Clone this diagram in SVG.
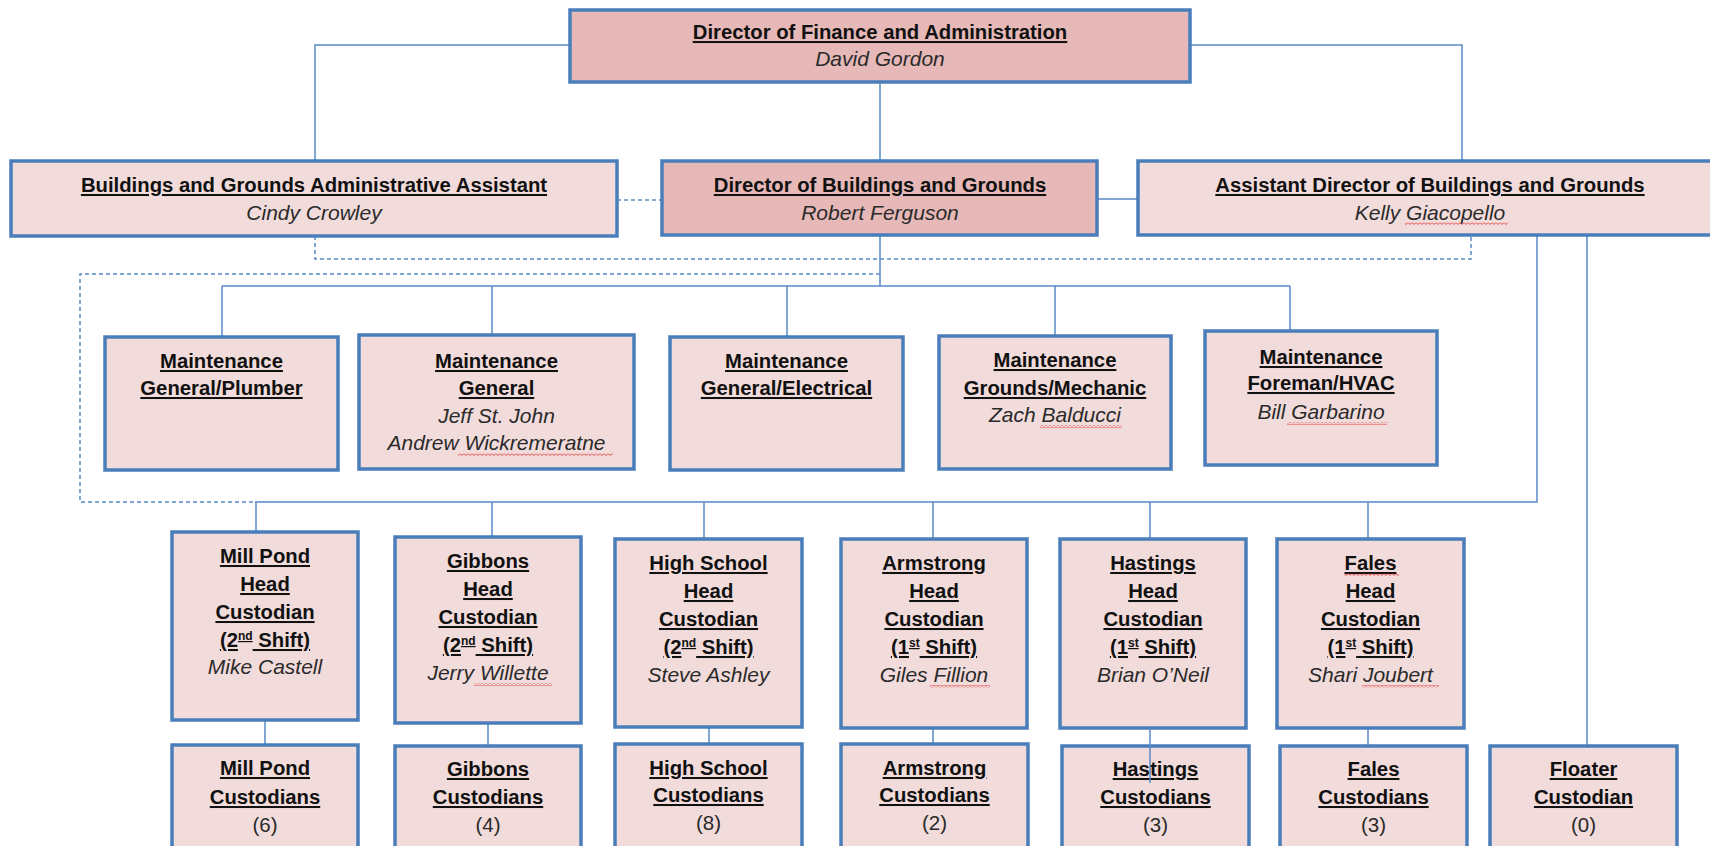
<svg xmlns="http://www.w3.org/2000/svg" width="1710" height="846" viewBox="0 0 1710 846">
<defs>
<style>
.bx{fill:#f2dcdb;stroke:#4a7ebb;stroke-width:3.5}
.dk{fill:#e6b8b7}
.ln{fill:none;stroke:#5a8ac6;stroke-width:1.5}
.ds{fill:none;stroke:#5a8ac6;stroke-width:1.5;stroke-dasharray:4 3}
text{font-family:"Liberation Sans",Arial,sans-serif;font-size:20.3px;text-anchor:middle;fill:#111}
.t{font-weight:bold;text-decoration:underline}
.n{font-style:italic;fill:#2a2a2a;font-size:21px}
.p{fill:#2a2a2a;font-size:20.5px}
.sq{fill:url(#sq)}
</style>
<pattern id="sq" patternUnits="userSpaceOnUse" width="4" height="3">
<path d="M0 0.5 L2 2.5 L4 0.5" fill="none" stroke="#e03030" stroke-width="0.9"/>
</pattern>
</defs>
<rect width="1710" height="846" fill="#ffffff"/>

<g id="connectors">
<path class="ln" d="M570 45 H315 V161"/>
<path class="ln" d="M1190 45 H1462 V161"/>
<path class="ln" d="M880 82 V161"/>
<path class="ln" d="M1097 199 H1138"/>
<path class="ds" d="M617 200 H662"/>
<path class="ds" d="M315 236 V259 H1471 V235"/>
<path class="ln" d="M880 235 V286"/>
<path class="ln" d="M222 286 H1290"/>
<path class="ln" d="M222 286 V337 M492 286 V335 M787 286 V337 M1055 286 V336 M1290 286 V331"/>
<path class="ds" d="M880 274 H80 V502 H255"/>
<path class="ln" d="M1537 235 V502 H255"/>
<path class="ln" d="M256 502 V532 M492 502 V537 M704 502 V539 M933 502 V539 M1150 502 V539 M1368 502 V539"/>
<path class="ln" d="M1587 235 V746"/>
<path class="ln" d="M265 720 V745 M488 723 V746 M709 727 V744 M933 728 V744 M1368 728 V746"/>
</g>

<g id="director-finance">
<rect class="bx dk" x="570" y="10" width="620" height="72"/>
<text class="t" x="880" y="39">Director of Finance and Administration</text>
<text class="n" x="880" y="66">David Gordon</text>
</g>

<g id="admin-assistant">
<rect class="bx" x="11" y="161" width="606" height="75"/>
<text class="t" x="314" y="192">Buildings and Grounds Administrative Assistant</text>
<text class="n" x="314" y="220">Cindy Crowley</text>
</g>

<g id="director-bg">
<rect class="bx dk" x="662" y="161" width="435" height="74"/>
<text class="t" x="880" y="192">Director of Buildings and Grounds</text>
<text class="n" x="880" y="220">Robert Ferguson</text>
</g>

<g id="assistant-director">
<rect class="bx" x="1138" y="161" width="584" height="74"/>
<text class="t" x="1430" y="192">Assistant Director of Buildings and Grounds</text>
<text class="n" x="1430" y="220">Kelly Giacopello</text>
<rect class="sq" x="1405" y="222" width="103" height="3"/>
</g>

<g id="maint-plumber">
<rect class="bx" x="105" y="337" width="233" height="133"/>
<text class="t" x="221.5" y="368">Maintenance</text>
<text class="t" x="221.5" y="395">General/Plumber</text>
</g>

<g id="maint-general">
<rect class="bx" x="359" y="335" width="275" height="134"/>
<text class="t" x="496.5" y="368">Maintenance</text>
<text class="t" x="496.5" y="395">General</text>
<text class="n" x="496.5" y="423">Jeff St. John</text>
<text class="n" x="496.5" y="450">Andrew Wickremeratne</text>
<rect class="sq" x="458" y="453" width="155" height="3"/>
</g>

<g id="maint-electrical">
<rect class="bx" x="670" y="337" width="233" height="133"/>
<text class="t" x="786.5" y="368">Maintenance</text>
<text class="t" x="786.5" y="395">General/Electrical</text>
</g>

<g id="maint-grounds">
<rect class="bx" x="939" y="336" width="232" height="133"/>
<text class="t" x="1055" y="367">Maintenance</text>
<text class="t" x="1055" y="395">Grounds/Mechanic</text>
<text class="n" x="1055" y="422">Zach Balducci</text>
<rect class="sq" x="1040" y="425" width="82" height="3"/>
</g>

<g id="maint-foreman">
<rect class="bx" x="1205" y="331" width="232" height="134"/>
<text class="t" x="1321" y="364">Maintenance</text>
<text class="t" x="1321" y="390">Foreman/HVAC</text>
<text class="n" x="1321" y="419">Bill Garbarino</text>
<rect class="sq" x="1287" y="422" width="100" height="3"/>
</g>

<g id="head-millpond">
<rect class="bx" x="172" y="532" width="186" height="188"/>
<text class="t" x="265" y="563">Mill Pond</text>
<text class="t" x="265" y="591">Head</text>
<text class="t" x="265" y="619">Custodian</text>
<text class="t" x="265" y="647">(2<tspan font-size="12" baseline-shift="super">nd</tspan> Shift)</text>
<text class="n" x="265" y="674">Mike Castell</text>
</g>

<g id="head-gibbons">
<rect class="bx" x="395" y="537" width="186" height="186"/>
<text class="t" x="488" y="568">Gibbons</text>
<text class="t" x="488" y="596">Head</text>
<text class="t" x="488" y="624">Custodian</text>
<text class="t" x="488" y="652">(2<tspan font-size="12" baseline-shift="super">nd</tspan> Shift)</text>
<text class="n" x="488" y="680">Jerry Willette</text>
<rect class="sq" x="474" y="683" width="78" height="3"/>
</g>

<g id="head-highschool">
<rect class="bx" x="615" y="539" width="187" height="188"/>
<text class="t" x="708.5" y="570">High School</text>
<text class="t" x="708.5" y="598">Head</text>
<text class="t" x="708.5" y="626">Custodian</text>
<text class="t" x="708.5" y="654">(2<tspan font-size="12" baseline-shift="super">nd</tspan> Shift)</text>
<text class="n" x="708.5" y="682">Steve Ashley</text>
</g>

<g id="head-armstrong">
<rect class="bx" x="841" y="539" width="186" height="189"/>
<text class="t" x="934" y="570">Armstrong</text>
<text class="t" x="934" y="598">Head</text>
<text class="t" x="934" y="626">Custodian</text>
<text class="t" x="934" y="654">(1<tspan font-size="12" baseline-shift="super">st</tspan> Shift)</text>
<text class="n" x="934" y="682">Giles Fillion</text>
<rect class="sq" x="930" y="685" width="60" height="3"/>
</g>

<g id="head-hastings">
<rect class="bx" x="1060" y="539" width="186" height="189"/>
<text class="t" x="1153" y="570">Hastings</text>
<text class="t" x="1153" y="598">Head</text>
<text class="t" x="1153" y="626">Custodian</text>
<text class="t" x="1153" y="654">(1<tspan font-size="12" baseline-shift="super">st</tspan> Shift)</text>
<text class="n" x="1153" y="682">Brian O’Neil</text>
</g>

<g id="head-fales">
<rect class="bx" x="1277" y="539" width="187" height="189"/>
<text class="t" x="1370.5" y="570">Fales</text>
<rect class="sq" x="1344" y="573" width="55" height="3"/>
<text class="t" x="1370.5" y="598">Head</text>
<text class="t" x="1370.5" y="626">Custodian</text>
<text class="t" x="1370.5" y="654">(1<tspan font-size="12" baseline-shift="super">st</tspan> Shift)</text>
<text class="n" x="1370.5" y="682">Shari Joubert</text>
<rect class="sq" x="1362" y="685" width="77" height="3"/>
</g>

<g id="cust-millpond">
<rect class="bx" x="172" y="745" width="186" height="120"/>
<text class="t" x="265" y="775">Mill Pond</text>
<text class="t" x="265" y="804">Custodians</text>
<text class="p" x="265" y="832">(6)</text>
</g>

<g id="cust-gibbons">
<rect class="bx" x="395" y="746" width="186" height="120"/>
<text class="t" x="488" y="776">Gibbons</text>
<text class="t" x="488" y="804">Custodians</text>
<text class="p" x="488" y="832">(4)</text>
</g>

<g id="cust-highschool">
<rect class="bx" x="615" y="744" width="187" height="120"/>
<text class="t" x="708.5" y="775">High School</text>
<text class="t" x="708.5" y="802">Custodians</text>
<text class="p" x="708.5" y="830">(8)</text>
</g>

<g id="cust-armstrong">
<rect class="bx" x="841" y="744" width="187" height="120"/>
<text class="t" x="934.5" y="775">Armstrong</text>
<text class="t" x="934.5" y="802">Custodians</text>
<text class="p" x="934.5" y="830">(2)</text>
</g>

<g id="cust-hastings">
<rect class="bx" x="1062" y="746" width="187" height="120"/>
<text class="t" x="1155.5" y="776">Hastings</text>
<text class="t" x="1155.5" y="804">Custodians</text>
<text class="p" x="1155.5" y="832">(3)</text>
</g>

<g id="cust-fales">
<rect class="bx" x="1280" y="746" width="187" height="120"/>
<text class="t" x="1373.5" y="776">Fales</text>
<text class="t" x="1373.5" y="804">Custodians</text>
<text class="p" x="1373.5" y="832">(3)</text>
</g>

<g id="cust-floater">
<rect class="bx" x="1490" y="746" width="187" height="120"/>
<text class="t" x="1583.5" y="776">Floater</text>
<text class="t" x="1583.5" y="804">Custodian</text>
<text class="p" x="1583.5" y="832">(0)</text>
</g>

<g id="connector-overlap">
<path class="ln" d="M1150 728 V783"/>
</g>
</svg>
